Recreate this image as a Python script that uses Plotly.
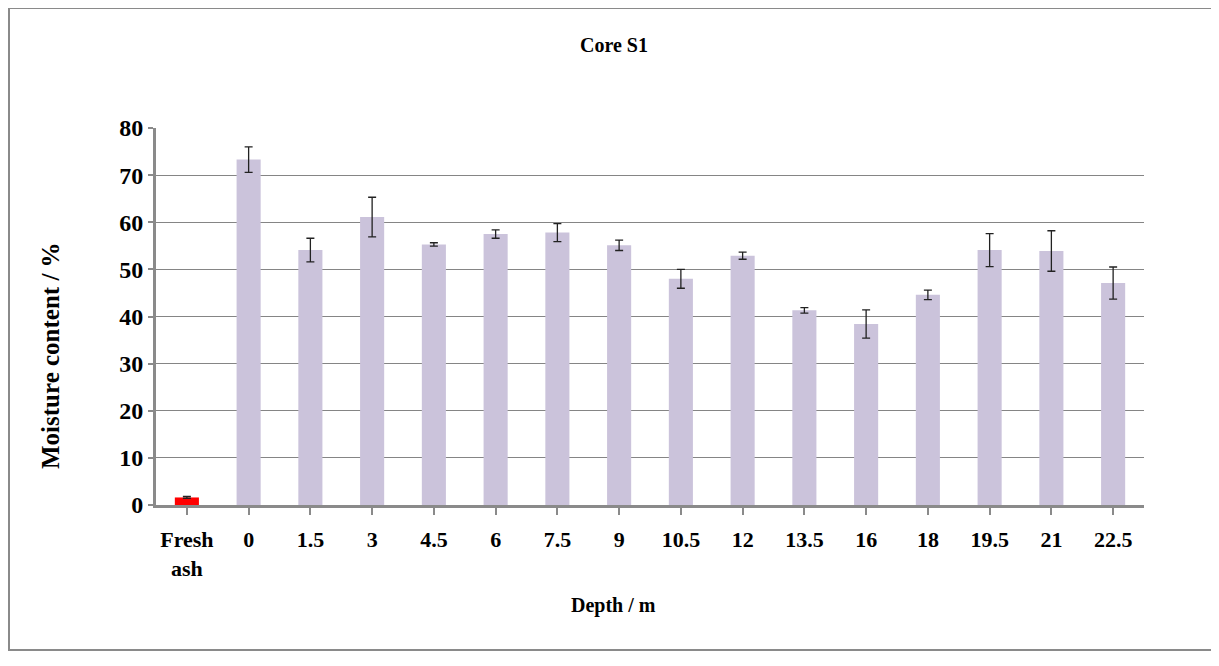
import plotly.graph_objects as go

categories = ["Fresh ash", "0", "1.5", "3", "4.5", "6", "7.5", "9", "10.5", "12",
              "13.5", "16", "18", "19.5", "21", "22.5"]
tick_labels = ["Fresh<br>ash", "0", "1.5", "3", "4.5", "6", "7.5", "9", "10.5", "12",
               "13.5", "16", "18", "19.5", "21", "22.5"]
moisture = [1.6, 73.3, 54.1, 61.1, 55.3, 57.5, 57.8, 55.1, 48.0, 52.9,
            41.3, 38.4, 44.6, 54.1, 53.9, 47.1]
errors = [0.2, 2.7, 2.5, 4.2, 0.35, 0.9, 1.9, 1.1, 2.0, 0.75,
          0.6, 3.0, 1.0, 3.5, 4.3, 3.4]
y_ticks = [0, 10, 20, 30, 40, 50, 60, 70, 80]

bar_colors = ["#FF0000"] + ["#CBC3DB"] * (len(categories) - 1)

# page body has an 8px margin, so the figure sits at (8, 8)
OFF = 8
W, H = 1219 - OFF, 666 - 2 * OFF
PL, PR, PT, PB = 156, 1144, 128, 505  # plot area in page pixels
pw, ph = PR - PL, PB - PT


def px(x):
    return (x - PL) / pw


def py(y):
    return (PB - y) / ph


fig = go.Figure()
fig.add_trace(go.Bar(
    x=categories,
    y=moisture,
    marker=dict(color=bar_colors, line=dict(width=0)),
    width=0.39,
    error_y=dict(type="data", array=errors, visible=True,
                 color="#222222", thickness=1.3, width=4),
    showlegend=False,
))

font_family = "Liberation Serif"

fig.update_layout(
    width=W, height=H,
    paper_bgcolor="white", plot_bgcolor="white",
    margin=dict(l=PL - OFF, r=W - (PR - OFF), t=PT - OFF, b=H - (PB - OFF), autoexpand=False),
    font=dict(family=font_family, color="black"),
    xaxis=dict(
        type="category",
        tickmode="array", tickvals=categories, ticktext=[f"<b>{t}</b>" for t in tick_labels],
        tickfont=dict(family=font_family, size=22, color="black"),
        showline=True, linecolor="#8A8A8A", linewidth=3,
        ticks="outside", ticklen=7, tickwidth=2, tickcolor="#8A8A8A",
        ticklabelstandoff=6,
        showgrid=False, zeroline=False,
        range=[-0.5, len(categories) - 0.5],
    ),
    yaxis=dict(
        range=[0, 80], tickmode="array", tickvals=y_ticks,
        ticktext=[f"<b>{v}</b>" for v in y_ticks],
        tickfont=dict(family=font_family, size=24, color="black"),
        showline=True, linecolor="#8A8A8A", linewidth=3,
        ticks="outside", ticklen=5, tickwidth=2, tickcolor="#8A8A8A",
        showgrid=True, gridcolor="#858585", gridwidth=1.3,
        zeroline=False,
    ),
    bargap=0.61,
)

# titles
fig.add_annotation(text="<b>Core S1</b>", xref="paper", yref="paper",
                   x=px(614), y=py(45), xanchor="center", yanchor="middle",
                   showarrow=False,
                   font=dict(family=font_family, size=20, color="black"))
fig.add_annotation(text="<b>Depth / m</b>", xref="paper", yref="paper",
                   x=px(613), y=py(605), xanchor="center", yanchor="middle",
                   showarrow=False,
                   font=dict(family=font_family, size=20, color="black"))
fig.add_annotation(text="<b>Moisture content / %</b>", xref="paper", yref="paper",
                   x=px(50), y=py(356), xanchor="center", yanchor="middle",
                   showarrow=False, textangle=-90,
                   font=dict(family=font_family, size=25, color="black"))

# outer chart border
fig.add_shape(type="rect", xref="paper", yref="paper",
              x0=px(9), x1=px(1217), y0=py(650), y1=py(8),
              line=dict(color="#8A8A8A", width=2), fillcolor="rgba(0,0,0,0)",
              layer="below")

fig.write_html("out.html")
